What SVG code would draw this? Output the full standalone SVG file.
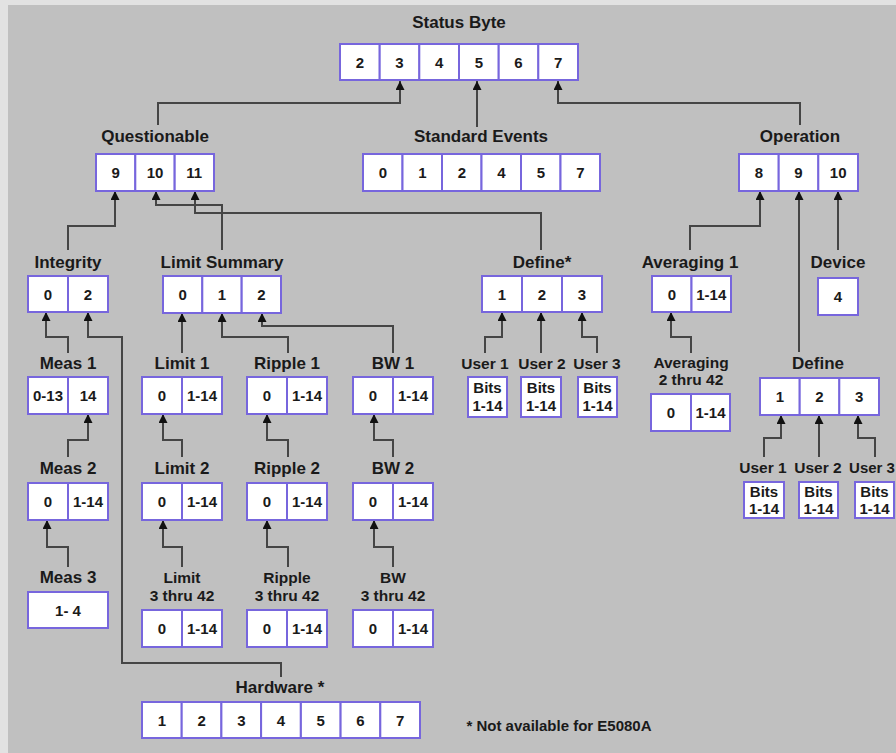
<svg xmlns="http://www.w3.org/2000/svg" width="896" height="753" viewBox="0 0 896 753">
<defs>
<style>
.bg{fill:#c0c0c0}
.c{fill:#ffffff;stroke:#7766dd;stroke-width:2}
.l{font-family:"Liberation Sans",Arial,sans-serif;font-weight:bold;font-size:17px;fill:#1a1a1a;text-anchor:middle}
.t{font-family:"Liberation Sans",Arial,sans-serif;font-weight:bold;font-size:15.5px;fill:#1a1a1a;text-anchor:middle}
.u{font-family:"Liberation Sans",Arial,sans-serif;font-weight:bold;font-size:15.5px;fill:#1a1a1a;text-anchor:middle}
.n{font-family:"Liberation Sans",Arial,sans-serif;font-weight:bold;font-size:15px;fill:#1a1a1a;text-anchor:middle}
.b{font-family:"Liberation Sans",Arial,sans-serif;font-weight:bold;font-size:15px;fill:#1a1a1a;text-anchor:middle}
.f{font-family:"Liberation Sans",Arial,sans-serif;font-weight:bold;font-size:15px;fill:#1a1a1a;text-anchor:middle}
.w{fill:none;stroke:#454545;stroke-width:2;marker-end:url(#ah)}
</style>
<marker id="ah" markerUnits="userSpaceOnUse" markerWidth="9" markerHeight="9" viewBox="0 0 8 8" refX="8" refY="4" orient="auto">
<path d="M0,0 L8,4 L0,8 z" fill="#111"/>
</marker>
</defs>
<rect x="0" y="0" width="896" height="753" fill="#e2e2e2"/>
<rect class="bg" x="8" y="5" width="888" height="748"/>

<g id="connectors">
<path class="w" d="M158,125 V103 H400 V81"/>
<path class="w" d="M477,127 V81"/>
<path class="w" d="M800,125 V103 H558 V81"/>
<path class="w" d="M68,250 V226 H115 V191"/>
<path class="w" d="M222,250 V205 H156 V191"/>
<path class="w" d="M541,250 V213 H195 V191"/>
<path class="w" d="M690,250 V226 H760 V191"/>
<path class="w" d="M799,352 V191"/>
<path class="w" d="M838,250 V191"/>
<path class="w" d="M68,353 V337 H46 V312"/>
<path class="w" d="M281,677 V663 H122 V337 H88 V312"/>
<path class="w" d="M182,353 V313"/>
<path class="w" d="M288,353 V337 H222 V313"/>
<path class="w" d="M393,353 V326 H262 V313"/>
<path class="w" d="M485,353 V337 H502 V312"/>
<path class="w" d="M541,353 V312"/>
<path class="w" d="M597,353 V337 H582 V312"/>
<path class="w" d="M691,353 V337 H671 V312"/>
<path class="w" d="M68,457 V440 H88 V414"/>
<path class="w" d="M182,457 V440 H163 V414"/>
<path class="w" d="M288,457 V440 H267 V414"/>
<path class="w" d="M393,457 V440 H374 V414"/>
<path class="w" d="M68,567 V547 H47 V520"/>
<path class="w" d="M182,567 V547 H163 V520"/>
<path class="w" d="M288,567 V547 H267 V520"/>
<path class="w" d="M393,567 V547 H374 V520"/>
<path class="w" d="M764,457 V438 H781 V415"/>
<path class="w" d="M819,457 V415"/>
<path class="w" d="M875,457 V438 H858 V415"/>
</g>

<g id="status-byte">
<text class="l" x="459" y="28">Status Byte</text>
<rect class="c" x="340" y="44" width="39.7" height="36"/>
<rect class="c" x="379.7" y="44" width="39.7" height="36"/>
<rect class="c" x="419.3" y="44" width="39.7" height="36"/>
<rect class="c" x="459" y="44" width="39.7" height="36"/>
<rect class="c" x="498.7" y="44" width="39.7" height="36"/>
<rect class="c" x="538.3" y="44" width="39.7" height="36"/>
<text class="n" x="359.8" y="67.5">2</text>
<text class="n" x="399.5" y="67.5">3</text>
<text class="n" x="439.2" y="67.5">4</text>
<text class="n" x="478.8" y="67.5">5</text>
<text class="n" x="518.5" y="67.5">6</text>
<text class="n" x="558.2" y="67.5">7</text>
</g>

<g id="questionable">
<text class="l" x="155" y="142">Questionable</text>
<rect class="c" x="96" y="154" width="39.3" height="37"/>
<rect class="c" x="135.3" y="154" width="39.3" height="37"/>
<rect class="c" x="174.7" y="154" width="39.3" height="37"/>
<text class="n" x="115.7" y="178">9</text>
<text class="n" x="155" y="178">10</text>
<text class="n" x="194.3" y="178">11</text>
</g>

<g id="standard-events">
<text class="l" x="481" y="142">Standard Events</text>
<rect class="c" x="363" y="154" width="39.5" height="37"/>
<rect class="c" x="402.5" y="154" width="39.5" height="37"/>
<rect class="c" x="442" y="154" width="39.5" height="37"/>
<rect class="c" x="481.5" y="154" width="39.5" height="37"/>
<rect class="c" x="521" y="154" width="39.5" height="37"/>
<rect class="c" x="560.5" y="154" width="39.5" height="37"/>
<text class="n" x="382.8" y="178">0</text>
<text class="n" x="422.3" y="178">1</text>
<text class="n" x="461.8" y="178">2</text>
<text class="n" x="501.3" y="178">4</text>
<text class="n" x="540.8" y="178">5</text>
<text class="n" x="580.3" y="178">7</text>
</g>

<g id="operation">
<text class="l" x="800" y="142">Operation</text>
<rect class="c" x="739" y="154" width="39.7" height="37"/>
<rect class="c" x="778.7" y="154" width="39.7" height="37"/>
<rect class="c" x="818.3" y="154" width="39.7" height="37"/>
<text class="n" x="758.8" y="178">8</text>
<text class="n" x="798.5" y="178">9</text>
<text class="n" x="838.2" y="178">10</text>
</g>

<g id="integrity">
<text class="l" x="68" y="268">Integrity</text>
<rect class="c" x="28" y="276" width="40" height="36"/>
<rect class="c" x="68" y="276" width="40" height="36"/>
<text class="n" x="48" y="299.5">0</text>
<text class="n" x="88" y="299.5">2</text>
</g>

<g id="limit-summary">
<text class="l" x="222" y="268">Limit Summary</text>
<rect class="c" x="163" y="276" width="39.3" height="37"/>
<rect class="c" x="202.3" y="276" width="39.3" height="37"/>
<rect class="c" x="241.7" y="276" width="39.3" height="37"/>
<text class="n" x="182.7" y="300">0</text>
<text class="n" x="222" y="300">1</text>
<text class="n" x="261.3" y="300">2</text>
</g>

<g id="define-q">
<text class="l" x="542" y="268">Define*</text>
<rect class="c" x="482" y="276" width="40" height="36"/>
<rect class="c" x="522" y="276" width="40" height="36"/>
<rect class="c" x="562" y="276" width="40" height="36"/>
<text class="n" x="502" y="299.5">1</text>
<text class="n" x="542" y="299.5">2</text>
<text class="n" x="582" y="299.5">3</text>
</g>

<g id="averaging-1">
<text class="l" x="690" y="268">Averaging 1</text>
<rect class="c" x="652" y="276" width="39.5" height="36"/>
<rect class="c" x="691.5" y="276" width="39.5" height="36"/>
<text class="n" x="671.8" y="299.5">0</text>
<text class="n" x="711.3" y="299.5">1-14</text>
</g>

<g id="device">
<text class="l" x="838" y="268">Device</text>
<rect class="c" x="818" y="278" width="40" height="37"/>
<text class="n" x="838" y="302">4</text>
</g>

<g id="meas-1">
<text class="l" x="68" y="369">Meas 1</text>
<rect class="c" x="28" y="377" width="40" height="37"/>
<rect class="c" x="68" y="377" width="40" height="37"/>
<text class="n" x="48" y="401">0-13</text>
<text class="n" x="88" y="401">14</text>
</g>

<g id="limit-1">
<text class="l" x="182" y="369">Limit 1</text>
<rect class="c" x="142" y="377" width="40" height="37"/>
<rect class="c" x="182" y="377" width="40" height="37"/>
<text class="n" x="162" y="401">0</text>
<text class="n" x="202" y="401">1-14</text>
</g>

<g id="ripple-1">
<text class="l" x="287" y="369">Ripple 1</text>
<rect class="c" x="247" y="377" width="40" height="37"/>
<rect class="c" x="287" y="377" width="40" height="37"/>
<text class="n" x="267" y="401">0</text>
<text class="n" x="307" y="401">1-14</text>
</g>

<g id="bw-1">
<text class="l" x="393" y="369">BW 1</text>
<rect class="c" x="353" y="377" width="40" height="37"/>
<rect class="c" x="393" y="377" width="40" height="37"/>
<text class="n" x="373" y="401">0</text>
<text class="n" x="413" y="401">1-14</text>
</g>

<g id="user-1">
<text class="u" x="485" y="369">User 1</text>
<rect class="c" x="468" y="377" width="39" height="40"/>
<text class="b" x="487.5" y="393">Bits</text>
<text class="b" x="487.5" y="411">1-14</text>
</g>
<g id="user-2">
<text class="u" x="542" y="369">User 2</text>
<rect class="c" x="521" y="377" width="40" height="40"/>
<text class="b" x="541" y="393">Bits</text>
<text class="b" x="541" y="411">1-14</text>
</g>
<g id="user-3">
<text class="u" x="597" y="369">User 3</text>
<rect class="c" x="578" y="377" width="39" height="40"/>
<text class="b" x="597.5" y="393">Bits</text>
<text class="b" x="597.5" y="411">1-14</text>
</g>

<g id="averaging-2-42">
<text class="t" x="691" y="368">Averaging</text>
<text class="t" x="691" y="385">2 thru 42</text>
<rect class="c" x="651" y="394" width="40" height="37"/>
<rect class="c" x="691" y="394" width="39" height="37"/>
<text class="n" x="671" y="418">0</text>
<text class="n" x="710.5" y="418">1-14</text>
</g>

<g id="define-op">
<text class="l" x="818" y="369">Define</text>
<rect class="c" x="760" y="378" width="39.7" height="37"/>
<rect class="c" x="799.7" y="378" width="39.7" height="37"/>
<rect class="c" x="839.3" y="378" width="39.7" height="37"/>
<text class="n" x="779.8" y="402">1</text>
<text class="n" x="819.5" y="402">2</text>
<text class="n" x="859.2" y="402">3</text>
</g>

<g id="op-user-1">
<text class="u" x="763" y="473">User 1</text>
<rect class="c" x="744" y="482" width="40" height="36"/>
<text class="b" x="764" y="497">Bits</text>
<text class="b" x="764" y="514">1-14</text>
</g>
<g id="op-user-2">
<text class="u" x="818" y="473">User 2</text>
<rect class="c" x="799" y="482" width="39" height="36"/>
<text class="b" x="818.5" y="497">Bits</text>
<text class="b" x="818.5" y="514">1-14</text>
</g>
<g id="op-user-3">
<text class="u" x="872" y="473" style="font-size:15px">User 3</text>
<rect class="c" x="855" y="482" width="39" height="36"/>
<text class="b" x="874.5" y="497">Bits</text>
<text class="b" x="874.5" y="514">1-14</text>
</g>

<g id="meas-2">
<text class="l" x="68" y="474">Meas 2</text>
<rect class="c" x="28" y="483" width="40" height="37"/>
<rect class="c" x="68" y="483" width="40" height="37"/>
<text class="n" x="48" y="507">0</text>
<text class="n" x="88" y="507">1-14</text>
</g>

<g id="limit-2">
<text class="l" x="182" y="474">Limit 2</text>
<rect class="c" x="142" y="483" width="40" height="37"/>
<rect class="c" x="182" y="483" width="40" height="37"/>
<text class="n" x="162" y="507">0</text>
<text class="n" x="202" y="507">1-14</text>
</g>

<g id="ripple-2">
<text class="l" x="287" y="474">Ripple 2</text>
<rect class="c" x="247" y="483" width="40" height="37"/>
<rect class="c" x="287" y="483" width="40" height="37"/>
<text class="n" x="267" y="507">0</text>
<text class="n" x="307" y="507">1-14</text>
</g>

<g id="bw-2">
<text class="l" x="393" y="474">BW 2</text>
<rect class="c" x="353" y="483" width="40" height="37"/>
<rect class="c" x="393" y="483" width="40" height="37"/>
<text class="n" x="373" y="507">0</text>
<text class="n" x="413" y="507">1-14</text>
</g>

<g id="meas-3">
<text class="l" x="68" y="583">Meas 3</text>
<rect class="c" x="28" y="592" width="80" height="36"/>
<text class="n" x="68" y="615.5">1- 4</text>
</g>

<g id="limit-3-42">
<text class="t" x="182" y="583">Limit</text>
<text class="t" x="182" y="601">3 thru 42</text>
<rect class="c" x="142" y="610" width="40" height="37"/>
<rect class="c" x="182" y="610" width="40" height="37"/>
<text class="n" x="162" y="634">0</text>
<text class="n" x="202" y="634">1-14</text>
</g>

<g id="ripple-3-42">
<text class="t" x="287" y="583">Ripple</text>
<text class="t" x="287" y="601">3 thru 42</text>
<rect class="c" x="247" y="610" width="40" height="37"/>
<rect class="c" x="287" y="610" width="40" height="37"/>
<text class="n" x="267" y="634">0</text>
<text class="n" x="307" y="634">1-14</text>
</g>

<g id="bw-3-42">
<text class="t" x="393" y="583">BW</text>
<text class="t" x="393" y="601">3 thru 42</text>
<rect class="c" x="353" y="610" width="40" height="37"/>
<rect class="c" x="393" y="610" width="40" height="37"/>
<text class="n" x="373" y="634">0</text>
<text class="n" x="413" y="634">1-14</text>
</g>

<g id="hardware">
<text class="l" x="280" y="693">Hardware *</text>
<rect class="c" x="142" y="702" width="39.7" height="36"/>
<rect class="c" x="181.7" y="702" width="39.7" height="36"/>
<rect class="c" x="221.4" y="702" width="39.7" height="36"/>
<rect class="c" x="261.1" y="702" width="39.7" height="36"/>
<rect class="c" x="300.9" y="702" width="39.7" height="36"/>
<rect class="c" x="340.6" y="702" width="39.7" height="36"/>
<rect class="c" x="380.3" y="702" width="39.7" height="36"/>
<text class="n" x="161.9" y="725.5">1</text>
<text class="n" x="201.6" y="725.5">2</text>
<text class="n" x="241.3" y="725.5">3</text>
<text class="n" x="281" y="725.5">4</text>
<text class="n" x="320.7" y="725.5">5</text>
<text class="n" x="360.4" y="725.5">6</text>
<text class="n" x="400.1" y="725.5">7</text>
</g>

<text class="f" x="559" y="731">* Not available for E5080A</text>
</svg>
